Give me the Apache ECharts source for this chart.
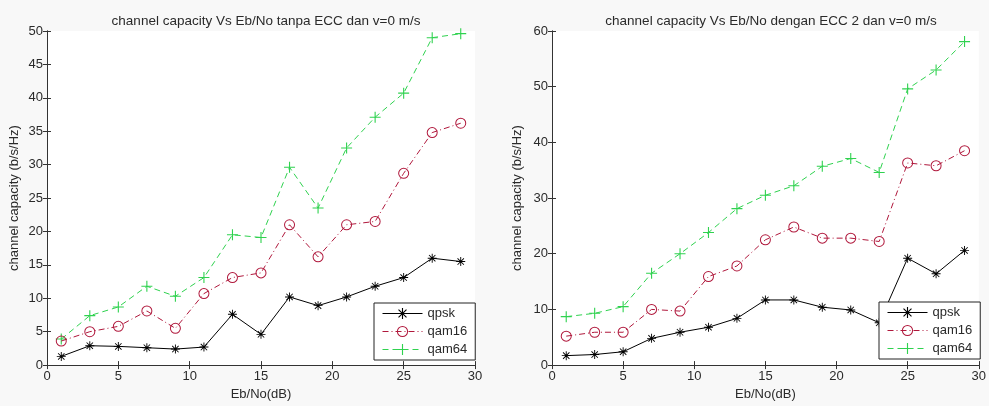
<!DOCTYPE html>
<html><head><meta charset="utf-8">
<script src="https://cdn.jsdelivr.net/npm/echarts@6/dist/echarts.min.js"></script>
<style>html,body{margin:0;padding:0;background:#fff}#c{width:989px;height:406px}</style>
</head><body><div id="c"></div>
<script>
const xVals = [1,3,5,7,9,11,13,15,17,19,21,23,25,27,29];
const xTicks = [0,5,10,15,20,25,30];
const seriesNames = ['qpsk','qam16','qam64'];
// Left: tanpa ECC
const leftQpsk  = [1.3,2.9,2.8,2.6,2.4,2.7,7.6,4.6,10.2,8.9,10.2,11.8,13.1,16.0,15.5];
const leftQam16 = [3.6,5.0,5.8,8.1,5.5,10.7,13.1,13.8,21.0,16.2,21.0,21.5,28.7,34.8,36.2];
const leftQam64 = [3.9,7.4,8.7,11.8,10.3,13.1,19.5,19.1,29.6,23.5,32.5,37.1,40.7,49.0,49.6];
// Right: dengan ECC 2
const rightQpsk  = [1.7,1.9,2.4,4.8,5.9,6.8,8.4,11.7,11.7,10.4,9.9,7.6,19.2,16.4,20.6];
const rightQam16 = [5.2,5.9,5.9,10.0,9.7,15.9,17.8,22.5,24.8,22.8,22.8,22.2,36.3,35.8,38.5];
const rightQam64 = [8.7,9.3,10.5,16.5,20.0,23.8,28.1,30.5,32.2,35.7,37.1,34.6,49.6,53.0,58.1];
const titles = ['channel capacity Vs Eb/No tanpa ECC dan v=0 m/s','channel capacity Vs Eb/No dengan ECC 2 dan v=0 m/s'];
const xName = 'Eb/No(dB)';
const yName = 'channel capacity (b/s/Hz)';

const FONT = 'Liberation Sans';
const AXC = '#333';
const TXT = '#2a2a2a';
const star = 'path://M-0.5,-5h1v10h-1z M-5,-0.5h10v1h-10z M-3.9,-3.2L-3.2,-3.9L3.9,3.2L3.2,3.9Z M3.2,-3.9L3.9,-3.2L-3.2,3.9L-3.9,3.2Z';
const plus = 'path://M-0.5,-5h1v10h-1z M-5,-0.5h10v1h-10z';
const ring = 'path://M0,-5A5,5 0 1,1 0,5A5,5 0 1,1 0,-5Z M0,-4.1A4.1,4.1 0 1,0 0,4.1A4.1,4.1 0 1,0 0,-4.1Z';
const styles = [
  {color:'#000000', type:'solid', symbol: star, size: 9},
  {color:'#b0183c', type:[6,3,1,3], symbol: ring, size: 11},
  {color:'#2fd24f', type:[6,4], symbol: plus, size: 11}
];

const grids = [
  {left:47, top:31, width:428, height:337},
  {left:552, top:31, width:428, height:337}
];
const yMax = [50,60], yInt = [5,10];

const xAxes = [], yAxes = [], series = [];
grids.forEach((g,i)=>{
  xAxes.push({type:'value', gridIndex:i, min:0, max:30, interval:5, position:'bottom',
    name:xName, nameLocation:'middle', nameGap:21, nameTextStyle:{fontFamily:FONT,fontSize:13,color:TXT},
    axisLine:{show:true,lineStyle:{color:AXC,width:1}}, axisTick:{inside:true,length:4,lineStyle:{color:AXC}},
    axisLabel:{fontFamily:FONT,fontSize:13,color:TXT,margin:5}, splitLine:{show:false}});
  xAxes.push({type:'value', gridIndex:i, min:0, max:30, interval:5, position:'top',
    axisLine:{show:true,lineStyle:{color:AXC,width:1}}, axisTick:{inside:true,length:4,lineStyle:{color:AXC}},
    axisLabel:{show:false}, splitLine:{show:false}});
  yAxes.push({type:'value', gridIndex:i, min:0, max:yMax[i], interval:yInt[i], position:'left',
    name:yName, nameLocation:'middle', nameGap: i===0?26:28, nameTextStyle:{fontFamily:FONT,fontSize:13,color:TXT},
    axisLine:{show:true,lineStyle:{color:AXC,width:1}}, axisTick:{inside:true,length:4,lineStyle:{color:AXC}},
    axisLabel:{fontFamily:FONT,fontSize:13,color:TXT,margin:4}, splitLine:{show:false}});
  yAxes.push({type:'value', gridIndex:i, min:0, max:yMax[i], interval:yInt[i], position:'right',
    axisLine:{show:true,lineStyle:{color:AXC,width:1}}, axisTick:{inside:true,length:4,lineStyle:{color:AXC}},
    axisLabel:{show:false}, splitLine:{show:false}});
});
const data = [[leftQpsk,leftQam16,leftQam64],[rightQpsk,rightQam16,rightQam64]];
data.forEach((set,i)=>{
  set.forEach((vals,k)=>{
    const s = styles[k];
    series.push({type:'line', name:seriesNames[k], xAxisIndex:2*i, yAxisIndex:2*i,
      data: xVals.map((x,j)=>[x, vals[j]]),
      symbol:s.symbol, symbolSize:s.size, showAllSymbol:true,
      lineStyle:{color:s.color,width:1,type:s.type},
      itemStyle:{color:s.color, borderWidth:0},
      animation:false, z: 3-k});
  });
});

const legendCommon = {orient:'vertical', data:seriesNames, backgroundColor:'#fff', borderColor:'#222', borderWidth:1,
  padding:[4,8,4,8], itemWidth:40, itemHeight:14, itemGap:5,
  lineStyle:{width:1}, textStyle:{fontFamily:FONT,fontSize:13,color:TXT}};

const chart = echarts.init(document.getElementById('c'), null, {renderer:'canvas'});
chart.setOption({
  backgroundColor:'#f8f8f8',
  animation:false,
  title: titles.map((t,i)=>({text:t, left: i===0?261:766, top:9, textAlign:'center',
    textStyle:{fontFamily:FONT,fontSize:13.5,fontWeight:'normal',color:TXT}})),
  grid: grids.map(g=>Object.assign({containLabel:false, backgroundColor:'#fff', show:true, borderWidth:0}, g)),
  legend: [Object.assign({left:374, top:303}, legendCommon), Object.assign({left:879, top:302}, legendCommon)],
  xAxis: xAxes, yAxis: yAxes, series: series
});
</script></body></html>
